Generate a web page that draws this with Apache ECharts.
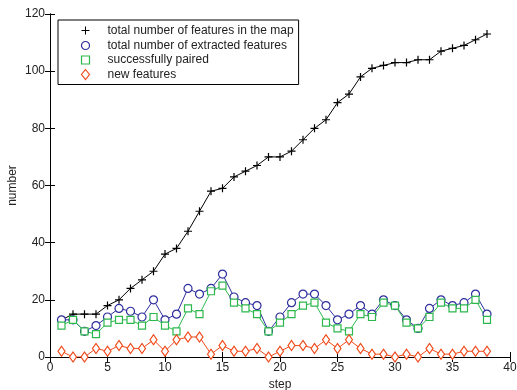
<!DOCTYPE html>
<html>
<head>
<meta charset="utf-8">
<script src="https://cdn.jsdelivr.net/npm/echarts@6/dist/echarts.min.js"></script>
<style>
  html, body { margin: 0; padding: 0; background: #fff; }
  #chart { width: 517px; height: 390px; }
</style>
</head>
<body>
<div id="chart"></div>
<script>
// Feature counts per step
const steps = [1,2,3,4,5,6,7,8,9,10,11,12,13,14,15,16,17,18,19,20,21,22,23,24,25,26,27,28,29,30,31,32,33,34,35,36,37,38];
const totalInMap = [13,15,15,15,18,20,24,27,30,36,38,44,51,58,59,63,65,67,70,70,72,76,80,83,89,92,98,101,102,103,103,104,104,107,108,109,111,113];
const totalExtracted = [13,13,9,11,14,17,16,14,20,13,15,24,22,24,29,21,19,18,9,14,19,22,22,18,13,15,18,15,20,18,13,10,17,20,18,19,22,15];
const pairedOk = [11,13,9,8,12,13,13,11,14,11,9,17,15,23,25,19,17,15,9,12,15,18,19,12,10,9,15,14,19,18,12,10,14,19,17,17,20,13];
const newFeatures = [2,0,0,3,2,4,3,3,6,2,6,7,7,1,4,2,2,3,0,2,4,4,3,6,3,6,3,1,1,0,1,0,3,1,1,2,2,2];

const seriesNames = ['total number of features in the map', 'total number of extracted features', 'successfully paired', 'new features'];

const FONT = 'Liberation Sans, Arial, sans-serif';
const PLUS = 'path://M0,5L10,5M5,0L5,10';

function pairs(vals) { return steps.map((s, i) => [s, vals[i]]); }

const chart = echarts.init(document.getElementById('chart'), null, { renderer: 'canvas' });

const axisCommon = {
  axisLine: { show: true, lineStyle: { color: '#000', width: 1 } },
  axisTick: { show: true, inside: true, length: 5, lineStyle: { color: '#000' } },
  splitLine: { show: false }
};

chart.setOption({
  animation: false,
  backgroundColor: '#fff',
  grid: { left: 50, right: 7, top: 14, bottom: 33, outerBoundsMode: 'none', containLabel: false },
  xAxis: [
    Object.assign({
      type: 'value', min: 0, max: 40, interval: 5, position: 'bottom',
      name: 'step', nameLocation: 'middle', nameGap: 15,
      nameTextStyle: { fontFamily: FONT, fontSize: 12, color: '#222' },
      axisLabel: { fontFamily: FONT, fontSize: 12, color: '#222', margin: 5 }
    }, axisCommon),
    Object.assign({
      type: 'value', min: 0, max: 40, interval: 5, position: 'top',
      axisLabel: { show: false }
    }, axisCommon)
  ],
  yAxis: [
    Object.assign({
      type: 'value', min: 0, max: 120, interval: 20, position: 'left',
      name: 'number', nameLocation: 'middle', nameGap: 31, nameRotate: 90, nameMoveOverlap: false,
      nameTextStyle: { fontFamily: FONT, fontSize: 12, color: '#222' },
      axisLabel: { fontFamily: FONT, fontSize: 12, color: '#222', margin: 5 }
    }, axisCommon),
    Object.assign({
      type: 'value', min: 0, max: 120, interval: 20, position: 'right',
      axisLabel: { show: false }
    }, axisCommon)
  ],
  legend: {
    orient: 'vertical',
    left: 58, top: 20,
    padding: [4, 5, 4, 21],
    itemGap: 2.5,
    itemWidth: 8, itemHeight: 10,
    borderColor: '#000', borderWidth: 1,
    textStyle: { fontFamily: FONT, fontSize: 12, lineHeight: 10, color: '#222', padding: [0, 0, 0, 13] },
    data: [
      { name: seriesNames[0], icon: PLUS, itemStyle: { color: 'none', borderColor: '#000', borderWidth: 1 } },
      { name: seriesNames[1], icon: 'circle', itemStyle: { color: '#fff', borderColor: '#2e2e9e', borderWidth: 1.2 } },
      { name: seriesNames[2], icon: 'path://M0,0L10,0L10,10L0,10Z', itemStyle: { color: '#fff', borderColor: '#2db84d', borderWidth: 1.2 } },
      { name: seriesNames[3], icon: 'diamond', itemStyle: { color: '#fff', borderColor: '#f04a1a', borderWidth: 1.2 } }
    ]
  },
  series: [
    {
      name: seriesNames[0], type: 'line', data: pairs(totalInMap),
      symbol: PLUS, symbolSize: 8, showAllSymbol: true,
      lineStyle: { color: '#000', width: 1 },
      itemStyle: { color: 'none', borderColor: '#000', borderWidth: 1.2 }
    },
    {
      name: seriesNames[1], type: 'line', data: pairs(totalExtracted),
      symbol: 'circle', symbolSize: 8, showAllSymbol: true,
      lineStyle: { color: '#2e2e9e', width: 1 },
      itemStyle: { color: '#fff', borderColor: '#2e2e9e', borderWidth: 1.2 }
    },
    {
      name: seriesNames[2], type: 'line', data: pairs(pairedOk),
      symbol: 'rect', symbolSize: 7, showAllSymbol: true,
      lineStyle: { color: '#2db84d', width: 1 },
      itemStyle: { color: '#fff', borderColor: '#2db84d', borderWidth: 1.2 }
    },
    {
      name: seriesNames[3], type: 'line', data: pairs(newFeatures),
      symbol: 'diamond', symbolSize: [7, 10], showAllSymbol: true,
      lineStyle: { color: '#f04a1a', width: 1 },
      itemStyle: { color: '#fff', borderColor: '#f04a1a', borderWidth: 1.2 }
    }
  ]
});
</script>
</body>
</html>
